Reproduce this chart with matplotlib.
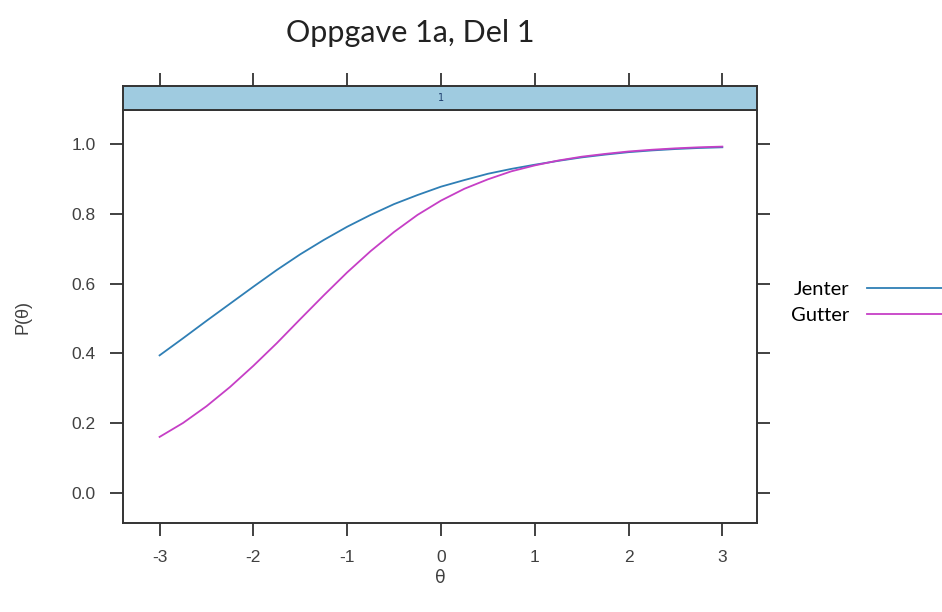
import numpy as np
import matplotlib
matplotlib.use("Agg")
import matplotlib.pyplot as plt

# theta grid and item response curves
theta = [-3.0, -2.75, -2.5, -2.25, -2.0, -1.75, -1.5, -1.25, -1.0, -0.75, -0.5, -0.25,
         0.0, 0.25, 0.5, 0.75, 1.0, 1.25, 1.5, 1.75, 2.0, 2.25, 2.5, 2.75, 3.0]
jenter = [0.394, 0.443, 0.493, 0.542, 0.591, 0.639, 0.684, 0.725, 0.763, 0.797, 0.828, 0.854,
          0.878, 0.897, 0.915, 0.929, 0.941, 0.952, 0.962, 0.970, 0.977, 0.982, 0.986, 0.989, 0.991]
gutter = [0.160, 0.200, 0.248, 0.303, 0.364, 0.429, 0.498, 0.566, 0.632, 0.693, 0.748, 0.797,
          0.838, 0.872, 0.899, 0.922, 0.939, 0.953, 0.964, 0.972, 0.979, 0.984, 0.988, 0.991, 0.993]
xticks = [-3, -2, -1, 0, 1, 2, 3]
yticks = [0.0, 0.2, 0.4, 0.6, 0.8, 1.0]
labels = ["Jenter", "Gutter"]
colors = ["#2f7fb5", "#c63fc6"]

W, H = 942, 612
fig = plt.figure(figsize=(W / 100, H / 100), dpi=100)

# main panel
ax = fig.add_axes([123 / W, 1 - 523 / H, 634 / W, 413 / H])
l1, = ax.plot(theta, jenter, color=colors[0], lw=1.3)
l2, = ax.plot(theta, gutter, color=colors[1], lw=1.3)
ax.set_xlim(-3.39, 3.37)
ax.set_ylim(-0.087, 1.098)
ax.set_xticks(xticks)
ax.set_xticklabels([str(t) for t in xticks])
ax.set_yticks(yticks)
ax.set_yticklabels(["%.1f" % v for v in yticks])
ax.tick_params(direction="out", length=9.5, width=1.3, color="#333333",
               labelsize=12.5, labelcolor="#404040", right=True, pad=10)
for lab in ax.get_xticklabels() + ax.get_yticklabels():
    lab.set_family("Liberation Sans")
for s in ax.spines.values():
    s.set_linewidth(1.4)
    s.set_color("#333333")
ax.set_xlabel("θ", fontsize=12.5, color="#404040", family="DejaVu Sans", labelpad=3)
ax.set_ylabel("P(θ)", fontsize=13, color="#404040", family="Liberation Sans", labelpad=29)

# strip on top
sax = fig.add_axes([123 / W, 1 - 110 / H, 634 / W, 24 / H])
sax.set_facecolor("#9fcbe0")
sax.set_xlim(ax.get_xlim())
sax.set_ylim(0, 1)
sax.set_xticks(xticks)
sax.set_yticks([])
sax.tick_params(axis="x", direction="out", length=9.5, width=1.3, color="#333333",
                top=True, bottom=False, labeltop=False, labelbottom=False)
for s in sax.spines.values():
    s.set_linewidth(1.4)
    s.set_color("#333333")
sax.text(0, 0.5, "1", ha="center", va="center", fontsize=7, color="#1f3f6f")

fig.text(410 / W, 1 - 33 / H, "Oppgave 1a, Del 1", ha="center", va="center",
         fontsize=22, family="Lato", color="#222222")

fig.legend([l1, l2], labels, markerfirst=False, frameon=False,
           loc="upper left", bbox_to_anchor=(791 / W, 1 - 281 / H),
           prop={"family": "Lato", "size": 14.5}, handlelength=5,
           handletextpad=0.9, labelspacing=0.45, borderpad=0, borderaxespad=0)

fig.savefig("out.png", dpi=100)
